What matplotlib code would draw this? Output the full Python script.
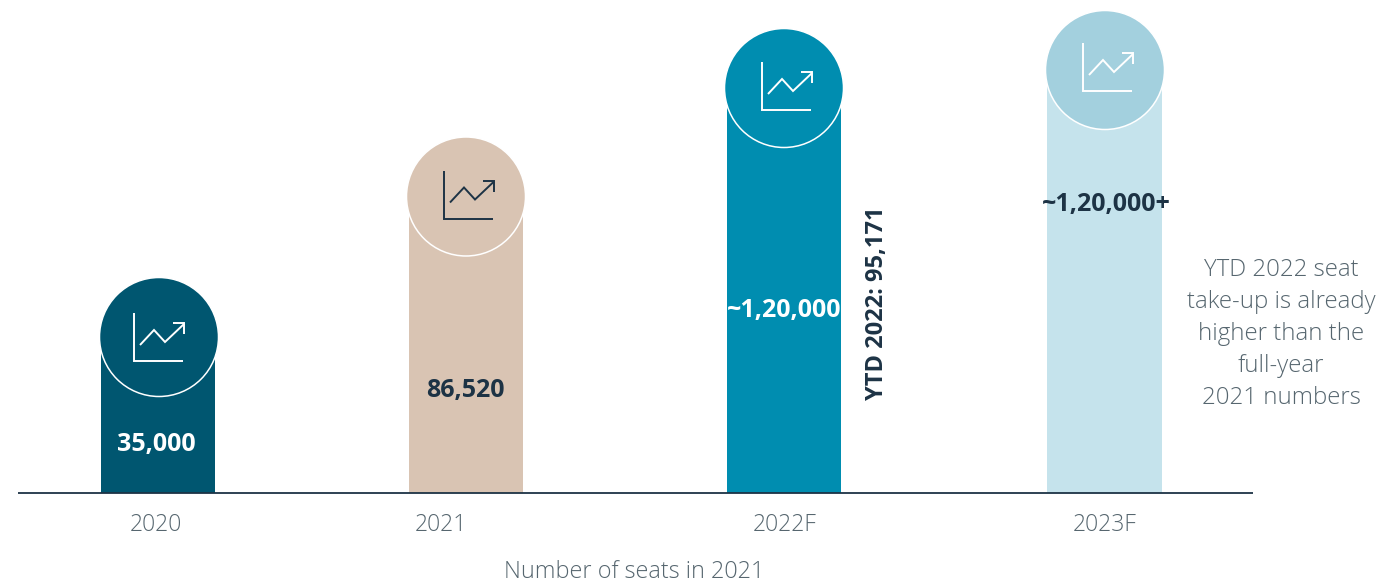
import matplotlib
matplotlib.use("Agg")
import matplotlib.pyplot as plt
from matplotlib.patches import Circle

# Chart data
years = ["2020", "2021", "2022F", "2023F"]
seats = [35000, 86520, 120000, 120000]
value_labels = ["35,000", "86,520", "~1,20,000", "~1,20,000+"]
ytd_label = "YTD 2022: 95,171"
side_note = ["YTD 2022 seat", "take-up is already", "higher than the", "full-year", "2021 numbers"]
x_title = "Number of seats in 2021"

# Styling and layout, in figure pixels
W, H = 1386, 587
BASE_Y = 493
bar_colors = ["#005670", "#D9C4B3", "#008DB0", "#C5E3EC"]
badge_colors = ["#005670", "#D9C4B3", "#008DB0", "#A3D0DE"]
icon_colors = ["#FFFFFF", "#1D3345", "#FFFFFF", "#FFFFFF"]
label_colors = ["#FFFFFF", "#1D3345", "#FFFFFF", "#1D3345"]
centers = [158, 466, 784, 1104.5]
badge_centers = [(159, 337), (466, 196.5), (784, 88), (1105, 70)]
icon_offsets = [(0, 0), (3, -2), (3, -2), (3, -3)]
label_pos = [(156.5, 445), (465, 391), (784, 311), (1106, 205)]
tick_x = [156, 441, 785, 1105]
BAR_W = 114.5
BADGE_R = 59.5
DARK = "#1D3345"
GREY = "#56666F"
FONT = "Open Sans"
AXIS_FLOOR = -11000      # value at the baseline
PX_PER_SEAT = 0.003153

fig = plt.figure(figsize=(W / 100, H / 100), dpi=100, facecolor="white")

# Bars live on a value axis whose bottom edge is the baseline
ax = fig.add_axes([0, 1 - BASE_Y / H, 1, BASE_Y / H])
ax.set_xlim(0, W)
ax.set_ylim(AXIS_FLOOR, AXIS_FLOOR + BASE_Y / PX_PER_SEAT)
ax.axis("off")
ax.bar(centers, [v - AXIS_FLOOR for v in seats], bottom=AXIS_FLOOR,
       width=BAR_W, color=bar_colors, linewidth=0)

# Overlay in pixel coordinates for badges, icons and text
ov = fig.add_axes([0, 0, 1, 1], facecolor="none")
ov.set_xlim(0, W)
ov.set_ylim(H, 0)
ov.axis("off")

ov.plot([18, 1253], [BASE_Y, BASE_Y], color=DARK, lw=1.3, solid_capstyle="butt", zorder=5)


def draw_icon(cx, cy, color):
    """Small line-chart pictogram centred on (cx, cy)."""
    style = dict(color=color, lw=1.4, solid_joinstyle="miter", solid_capstyle="butt", zorder=4)
    ov.plot([cx - 25, cx - 25, cx + 24], [cy - 24, cy + 24, cy + 24], **style)
    ov.plot([cx - 19, cx - 5, cx + 6, cx + 25], [cy + 8, cy - 7, cy + 5, cy - 13], **style)
    ov.plot([cx + 14, cx + 25, cx + 25], [cy - 14, cy - 14, cy - 3], **style)


for (cx, cy), (dx, dy), face, icon in zip(badge_centers, icon_offsets, badge_colors, icon_colors):
    ov.add_patch(Circle((cx, cy), BADGE_R, facecolor=face, edgecolor="white", lw=1.1, zorder=3))
    draw_icon(cx + dx, cy + dy, icon)

for (x, y), text, color in zip(label_pos, value_labels, label_colors):
    ov.text(x, y, text, color=color, fontsize=18, fontweight="bold", family=FONT,
            ha="center", va="center", zorder=6)

for x, year in zip(tick_x, years):
    ov.text(x, 525, year, color=GREY, fontsize=16.5, family=FONT, fontweight="light",
            ha="center", va="center")

ov.text(877, 303, ytd_label, rotation=90, color=DARK, fontsize=17, fontweight="bold",
        family=FONT, ha="center", va="center")

for i, line in enumerate(side_note):
    ov.text(1281, 270.5 + 32 * i, line, color=GREY, fontsize=17.3, family=FONT, fontweight="light",
            ha="center", va="center")

ov.text(634, 572, x_title, color=GREY, fontsize=16.8, family=FONT, fontweight="light",
        ha="center", va="center")

fig.savefig("out.png", dpi=100)
